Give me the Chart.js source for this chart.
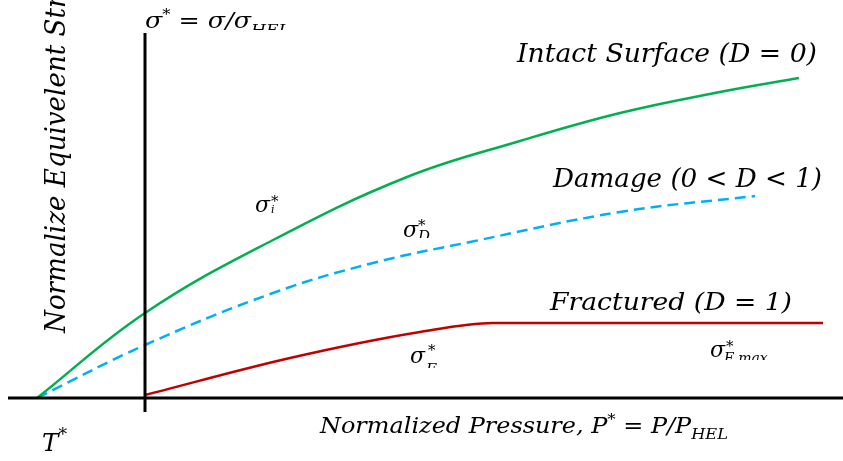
<!DOCTYPE html>
<html><head><meta charset="utf-8">
<script src="https://cdn.jsdelivr.net/npm/chart.js@4.4.1/dist/chart.umd.min.js"></script>
<style>html,body{margin:0;padding:0;background:#fff}#wrap{width:843px;height:461px;position:relative}</style>
</head><body><div id="wrap"><canvas id="c"></canvas></div>
<script>
// Normalized pressure P* (x) and normalized equivalent stress sigma* (y)
const intactP    = [-1.08, 0.00, 1.28, 2.62, 3.75, 4.75, 5.75, 6.54];
const intactS    = [0.00, 0.85, 1.58, 2.21, 2.57, 2.85, 3.06, 3.20];
const damageP    = [-1.08, 0.00, 1.28, 2.28, 3.25, 4.75, 6.10];
const damageS    = [0.00, 0.53, 1.05, 1.35, 1.56, 1.86, 2.02];
const fracturedP = [0.00, 1.45, 2.75, 3.48, 6.78];
const fracturedS = [0.03, 0.40, 0.66, 0.75, 0.75];
const hAxisP = [-1.37, 7.00];
const hAxisS = [0, 0];
const vAxisP = [0, 0];
const vAxisS = [-0.14, 3.65];

const pts = (xs, ys) => xs.map((x, i) => ({x, y: ys[i]}));
const FONT = '"DejaVu Serif"';

function run(ctx, pieces, x, y, size, targetW, opts) {
  opts = opts || {};
  ctx.save();
  if (opts.clipY !== undefined) { ctx.beginPath(); ctx.rect(0, 0, 843, opts.clipY); ctx.clip(); }
  ctx.translate(x, y);
  if (opts.rot) ctx.rotate(opts.rot);
  let total = 0;
  const ws = pieces.map(p => { ctx.font = `italic ${size * (p[1] || 1)}px ${FONT}`; const w = ctx.measureText(p[0]).width; total += w; return w; });
  const sc = targetW ? targetW / (opts.fitW || total) : 1;
  ctx.scale(sc, 1);
  ctx.fillStyle = '#000';
  ctx.textBaseline = 'alphabetic';
  let cx = 0;
  pieces.forEach((p, i) => { ctx.font = `italic ${size * (p[1] || 1)}px ${FONT}`; ctx.fillText(p[0], cx, (p[2] || 0) * size); cx += ws[i]; });
  ctx.restore();
}
function measure(ctx, t, size) { ctx.font = `italic ${size}px ${FONT}`; return ctx.measureText(t).width; }

const labels = {
  id: 'labels',
  afterDraw(chart) {
    const ctx = chart.ctx;
    run(ctx, [["Intact Surface (D = 0)"]], 517, 62, 26, 300);
    run(ctx, [["Damage (0 < D < 1)"]], 553, 187, 26, 269);
    run(ctx, [["Fractured (D = 1)"]], 550, 310, 24.7, 242);
    run(ctx, [["Normalized Pressure, P"], ["*", 0.7, -0.4], [" = P/P"], ["HEL", 0.68, 0.25]], 320, 433, 22, 408);
    run(ctx, [["σ"], ["*", 0.65, -0.42], [" = σ/σ"], ["HEL", 0.68, 0.32]], 145, 28, 22, 145, {clipY: 30});
    run(ctx, [["T"], ["*", 0.7, -0.45]], 42, 451, 24, 25);
    // y axis title, rotated
    const yt = "Normalize Equivelent Stress";
    const fw = measure(ctx, "Normalize Equivelent St", 27);
    run(ctx, [[yt]], 65, 333, 27, 325, {rot: -Math.PI / 2, fitW: fw});
    // sigma labels
    const sig = (sx, sy, star, sub, subx, suby, subSize, clip) => {
      const o = clip !== undefined ? {clipY: clip} : {};
      run(ctx, [["σ"]], sx, sy, 22, 0);
      run(ctx, [["*"]], star[0], star[1], 15, 0);
      run(ctx, [[sub]], subx, suby, subSize, 0, o);
    };
    sig(255, 212, [271, 206], "i", 271, 213, 11);
    sig(403, 237, [418, 230], "D", 418, 241, 15, 238);
    sig(410, 363, [428, 355], "F", 426, 374, 15, 368);
    sig(710, 357, [726, 351], "F max", 724, 363, 14, 360);
  }
};

const ds = (data, color, w, dash, mono) => ({
  data, borderColor: color, borderWidth: w, borderDash: dash || [], pointRadius: 0,
  cubicInterpolationMode: mono ? 'monotone' : 'default', tension: 0.4, fill: false
});

new Chart(document.getElementById('c'), {
  type: 'line',
  data: {
    datasets: [
      ds(pts(hAxisP, hAxisS), '#000', 3),
      ds(pts(vAxisP, vAxisS), '#000', 3),
      ds(pts(intactP, intactS), '#00b050', 2.5),
      ds(pts(damageP, damageS), '#00b0f0', 2.5, [11, 6]),
      ds(pts(fracturedP, fracturedS), '#c00000', 2.5, null, true)
    ]
  },
  options: {
    responsive: true, maintainAspectRatio: false, animation: false,
    layout: {padding: 0},
    plugins: {legend: {display: false}, tooltip: {enabled: false}},
    scales: {
      x: {type: 'linear', min: -1.45, max: 6.98, display: false},
      y: {type: 'linear', min: -0.63, max: 3.98, display: false}
    }
  },
  plugins: [labels]
});
</script></body></html>
